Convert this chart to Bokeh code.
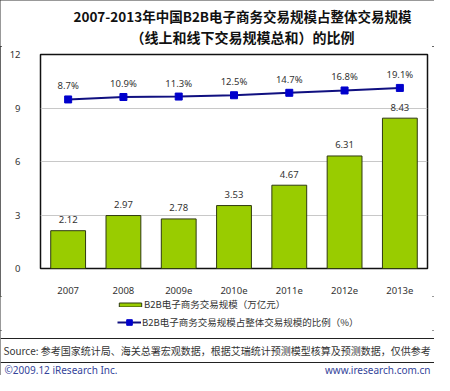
from bokeh.plotting import figure
from bokeh.models import (Range1d, FixedTicker, LinearAxis, ColumnDataSource, LabelSet,
                          Legend, LegendItem)
from bokeh.layouts import column
from bokeh.core.properties import value
from bokeh.embed import file_html
from bokeh.resources import INLINE

# ---- data ----
years = ["2007", "2008", "2009e", "2010e", "2011e", "2012e", "2013e"]
b2b_scale = [2.12, 2.97, 2.78, 3.53, 4.67, 6.31, 8.43]          # 万亿元
b2b_share = [8.7, 10.9, 11.3, 12.5, 14.7, 16.8, 19.1]          # %
y_ticks = [0, 3, 6, 9, 12]
title1 = "2007-2013年中国B2B电子商务交易规模占整体交易规模"
title2 = "（线上和线下交易规模总和）的比例"
legend1 = "B2B电子商务交易规模（万亿元）"
legend2 = "B2B电子商务交易规模占整体交易规模的比例（%）"
source_txt = "Source: 参考国家统计局、海关总署宏观数据，根据艾瑞统计预测模型核算及预测数据，仅供参考"
copyright_txt = "©2009.12 iResearch Inc."
site_txt = "www.iresearch.com.cn"

CJK = "Noto Sans CJK SC"
NUM = "Noto Sans"
BAR_FILL = "#99cc00"
BAR_LINE = "#2f3a10"
LINE_COL = "#101080"
MARK_COL = "#0000cc"
W = 434


def blank(y0, y1):
    """A figure whose frame is the whole canvas; ranges are in picture pixels."""
    f = figure(width=W, height=y1 - y0, output_backend="svg", toolbar_location=None,
               x_range=Range1d(0, W), y_range=Range1d(y1, y0),
               min_border=0, x_axis_location=None, y_axis_location=None, frame_align=False)
    f.grid.visible = False
    f.outline_line_color = None
    f.background_fill_color = "white"
    f.border_fill_color = "white"
    return f


# ---- title ----
t = blank(0, 46)
t.text(x=[242, 242], y=[15, 36], text=[title1, title2], text_font=value(CJK),
       text_font_size=["13.5px", "14px"], text_font_style="bold", text_color="#111111",
       text_align="center", text_baseline="middle")

# ---- main chart ----
xs = [i + 0.5 for i in range(len(years))]
src = ColumnDataSource(dict(
    x=xs, scale=b2b_scale, share=b2b_share,
    scale_lbl=["%.2f" % v for v in b2b_scale],
    share_lbl=["%.1f%%" % v for v in b2b_share],
))

p = figure(width=W, height=250, output_backend="svg", toolbar_location=None,
           x_range=Range1d(0, len(years)), y_range=Range1d(0, 12),
           min_border_left=40, min_border_right=W - 427,
           min_border_top=8, min_border_bottom=27,
           x_axis_location=None, y_axis_location=None, frame_align=False)
p.extra_y_ranges = {"pct": Range1d(-144, 49.3)}
p.outline_line_color = "#111111"
p.outline_line_width = 1.5
p.background_fill_color = "white"
p.border_fill_color = "white"

yax = LinearAxis(ticker=FixedTicker(ticks=y_ticks))
xax = LinearAxis(ticker=FixedTicker(ticks=xs),
                 major_label_overrides={x: y for x, y in zip(xs, years)})
for ax in (yax, xax):
    ax.axis_line_color = None
    ax.major_tick_line_color = None
    ax.minor_tick_line_color = None
    ax.major_label_text_font = NUM
    ax.major_label_text_font_size = "9.5px"
    ax.major_label_text_color = "#333333"
yax.major_label_standoff = 14
xax.major_label_standoff = 12
p.add_layout(yax, "left")
p.add_layout(xax, "below")

p.xgrid.grid_line_color = None
p.ygrid.ticker = FixedTicker(ticks=[3, 6, 9])
p.ygrid.grid_line_color = "#c8c8c8"

p.vbar(x="x", top="scale", width=0.63, bottom=0, source=src,
       fill_color=BAR_FILL, line_color=BAR_LINE, line_width=1)
p.line(x="x", y="share", source=src, y_range_name="pct", line_color=LINE_COL, line_width=2)
p.scatter(x="x", y="share", source=src, y_range_name="pct", marker="square",
          size=7, fill_color=MARK_COL, line_color=MARK_COL)

p.add_layout(LabelSet(x="x", y="scale", text="scale_lbl", source=src, y_offset=11,
                      text_align="center", text_baseline="middle",
                      text_font=value(NUM), text_font_size="9.5px", text_color="#333333"))
p.add_layout(LabelSet(x="x", y="share", text="share_lbl", source=src, y_range_name="pct",
                      y_offset=13.5, text_align="center", text_baseline="middle",
                      text_font=value(NUM), text_font_size="9.5px", text_color="#333333"))

# ---- legend ----
lgf = blank(296, 330)
hidden = ColumnDataSource(dict(x=[-1000], y=[-1000]))   # off-canvas stand-ins for legend keys
r_bar = lgf.vbar(x="x", top="y", width=1, source=hidden,
                 fill_color=BAR_FILL, line_color=BAR_LINE, line_width=1)
r_ln = lgf.line(x="x", y="y", source=hidden, line_color=LINE_COL, line_width=2)
r_mk = lgf.scatter(x="x", y="y", source=hidden, marker="square",
                   fill_color=MARK_COL, line_color=MARK_COL)
common = dict(padding=0, margin=0, border_line_color=None, background_fill_alpha=0,
              label_text_font=CJK, label_text_font_size="9.5px", label_text_color="#333333")
lg1 = Legend(items=[LegendItem(label=legend1, renderers=[r_bar])], location=(116, 19),
             glyph_width=28, glyph_height=5, label_standoff=0, **common)
lg2 = Legend(items=[LegendItem(label=legend2, renderers=[r_ln, r_mk])], location=(117, 1),
             glyph_width=24, glyph_height=14, label_standoff=1, **common)
lgf.add_layout(lg1)
lgf.add_layout(lg2)

# ---- footer ----
f = blank(330, 375)
f.segment(x0=[0, 0], x1=[W, W], y0=[338, 362], y1=[338, 362],
          line_color="#222222", line_width=1)
f.text(x=[3], y=[350], text=[source_txt], text_font=value(CJK), text_font_size="10px",
       text_color="#333333", text_baseline="middle")
f.text(x=[4], y=[369], text=[copyright_txt], text_font=value(NUM), text_font_size="10px",
       text_color="#34449a", text_baseline="middle")
f.text(x=[430], y=[369], text=[site_txt], text_font=value(NUM), text_font_size="10px",
       text_color="#34449a", text_baseline="middle", text_align="right")

lay = column(t, p, lgf, f, spacing=0,
             styles={"outline": "2px solid #333333", "outline-offset": "-2px"})
open("out.html", "w").write(file_html(lay, INLINE))
